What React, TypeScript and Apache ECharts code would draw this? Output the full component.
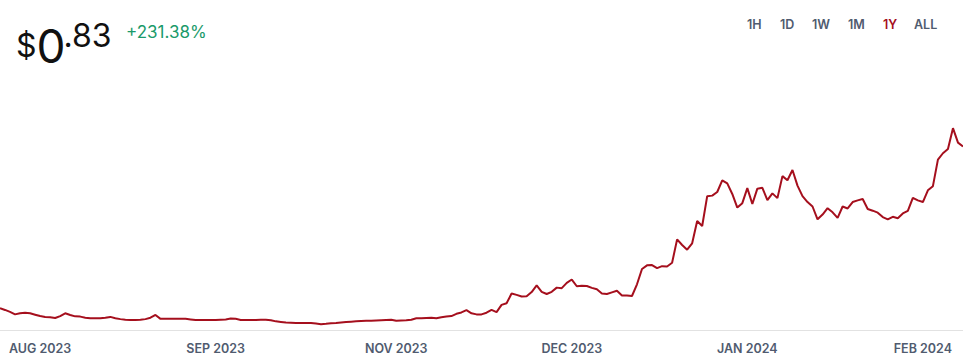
import React, { useEffect, useRef } from "react";
import * as echarts from "echarts";

// Price series (USD), evenly spaced samples from AUG 2023 to FEB 2024
const prices: number[] = [
  0.250, 0.244, 0.237, 0.228, 0.232, 0.234, 0.232, 0.227, 0.222, 0.219,
  0.218, 0.215, 0.222, 0.232, 0.226, 0.221, 0.220, 0.216, 0.214, 0.214,
  0.214, 0.216, 0.219, 0.214, 0.211, 0.209, 0.208, 0.208, 0.209, 0.211,
  0.216, 0.226, 0.212, 0.212, 0.212, 0.212, 0.212, 0.212, 0.210, 0.208,
  0.208, 0.208, 0.208, 0.208, 0.209, 0.210, 0.213, 0.212, 0.208, 0.208,
  0.208, 0.208, 0.209, 0.209, 0.207, 0.203, 0.201, 0.199, 0.198, 0.197,
  0.197, 0.197, 0.197, 0.195, 0.193, 0.194, 0.196, 0.197, 0.199, 0.201,
  0.202, 0.203, 0.204, 0.205, 0.205, 0.206, 0.207, 0.208, 0.209, 0.205,
  0.206, 0.207, 0.209, 0.214, 0.214, 0.215, 0.216, 0.214, 0.218, 0.220,
  0.222, 0.230, 0.235, 0.243, 0.232, 0.228, 0.228, 0.234, 0.244, 0.236,
  0.262, 0.268, 0.303, 0.298, 0.292, 0.293, 0.308, 0.332, 0.309, 0.301,
  0.309, 0.324, 0.322, 0.341, 0.353, 0.329, 0.331, 0.330, 0.323, 0.318,
  0.303, 0.301, 0.307, 0.313, 0.296, 0.296, 0.294, 0.336, 0.391, 0.404,
  0.405, 0.394, 0.401, 0.400, 0.413, 0.497, 0.477, 0.460, 0.483, 0.563,
  0.545, 0.652, 0.654, 0.667, 0.709, 0.698, 0.660, 0.611, 0.627, 0.681,
  0.624, 0.679, 0.682, 0.638, 0.662, 0.645, 0.724, 0.709, 0.746, 0.690,
  0.652, 0.631, 0.615, 0.569, 0.586, 0.609, 0.594, 0.574, 0.615, 0.608,
  0.631, 0.637, 0.642, 0.606, 0.600, 0.593, 0.577, 0.569, 0.578, 0.573,
  0.590, 0.599, 0.646, 0.637, 0.631, 0.673, 0.688, 0.783, 0.806, 0.821,
  0.896, 0.844, 0.830,
];

// Category positions (sample index) and their tick labels
const categories: string[] = prices.map((_, i) => String(i));
const tickIndices: number[] = [8, 43, 79, 114, 149, 184];
const tickLabels: string[] = ["AUG 2023", "SEP 2023", "NOV 2023", "DEC 2023", "JAN 2024", "FEB 2024"];

// Header texts
const currency = "$";
const priceWhole = "0";
const priceCents = ".83";
const changeText = "+231.38%";
const rangeButtons: string[] = ["1H", "1D", "1W", "1M", "1Y", "ALL"];
const activeButton = "1Y";

const LINE_RED = "#a50f1d";
const SLATE = "#505b6f";

export default function App() {
  const ref = useRef<HTMLDivElement>(null);

  useEffect(() => {
    if (!ref.current) return;
    const chart = echarts.init(ref.current, undefined, { renderer: "svg" });

    const buttonX = [747, 780, 812, 848, 883, 914];
    const graphic: any[] = [
      {
        type: "text",
        x: 16,
        y: 45.5,
        style: {
          text: `{s|${currency}}{z|${priceWhole}}`,
          fontFamily: "Inter",
          fill: "#111",
          align: "left",
          verticalAlign: "middle",
          rich: {
            s: { fontFamily: "Inter", fontSize: 32, fontWeight: 400, fill: "#111" },
            z: { fontFamily: "Inter", fontSize: 46, fontWeight: 400, fill: "#111" },
          },
        },
      },
      {
        type: "text",
        x: 63.5,
        y: 35,
        style: { text: priceCents, fontFamily: "Inter", fontSize: 32, fontWeight: 400, fill: "#111", align: "left", verticalAlign: "middle" },
      },
      {
        type: "text",
        x: 126,
        y: 32,
        style: { text: changeText, fontFamily: "Inter", fontSize: 17, fontWeight: 400, fill: "#1a9a6a", align: "left", verticalAlign: "middle" },
      },
      ...rangeButtons.map((b, i) => ({
        type: "text",
        x: buttonX[i],
        y: 24.5,
        style: {
          text: b,
          fontFamily: "Inter",
          fontSize: 12.5,
          fontWeight: 600,
          fill: b === activeButton ? LINE_RED : SLATE,
          align: "left",
          verticalAlign: "middle",
        },
      })),
    ];

    chart.setOption({
      animation: false,
      grid: { left: 0, right: 0, top: 100, bottom: 34, containLabel: false },
      xAxis: {
        type: "category",
        data: categories,
        boundaryGap: false,
        axisLine: { show: true, lineStyle: { color: "#e2e2e2", width: 1 } },
        axisTick: { show: false },
        splitLine: { show: false },
        axisLabel: {
          show: true,
          interval: (index: number) => tickIndices.includes(index),
          formatter: (_v: string, index: number) => {
            const k = tickIndices.indexOf(index);
            return k >= 0 ? tickLabels[k] : "";
          },
          margin: 12,
          fontFamily: "Inter",
          fontSize: 12.5,
          fontWeight: 600,
          color: SLATE,
          hideOverlap: false,
        },
      },
      yAxis: {
        type: "value",
        min: 0.172,
        max: 0.997,
        show: false,
        splitLine: { show: false },
      },
      graphic,
      series: [
        {
          type: "line",
          data: prices,
          showSymbol: false,
          symbol: "none",
          lineStyle: { color: LINE_RED, width: 2 },
          itemStyle: { color: LINE_RED },
          emphasis: { disabled: true },
        },
      ],
    });

    return () => chart.dispose();
  }, []);

  return (
    <div style={{ position: "fixed", left: 0, top: 0, width: 963, height: 364, background: "#fff" }}>
      <div ref={ref} style={{ width: 963, height: 364 }} />
    </div>
  );
}
